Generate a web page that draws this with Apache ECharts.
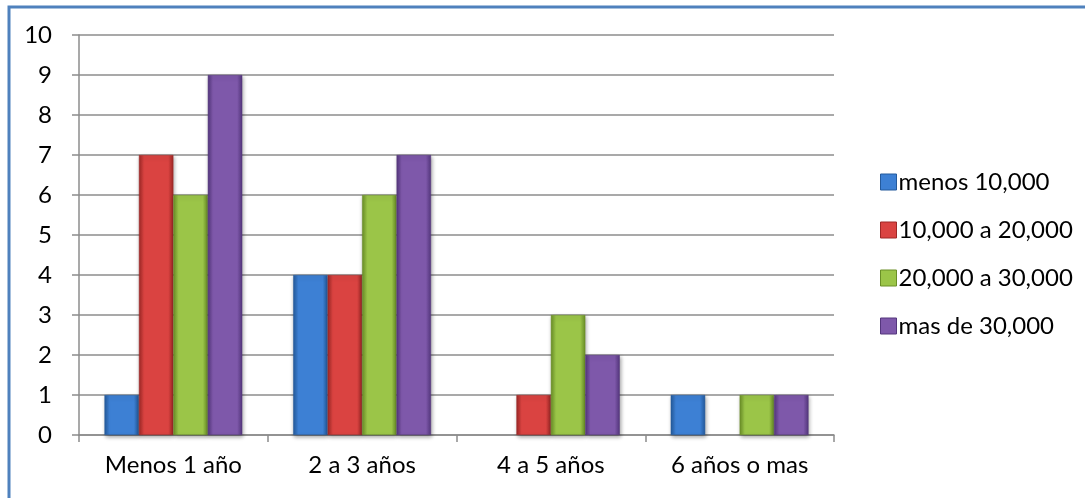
<!DOCTYPE html>
<html><head><meta charset="utf-8">
<script src="https://cdn.jsdelivr.net/npm/echarts@6/dist/echarts.min.js"></script>
<style>html,body{margin:0;padding:0;background:#fff}#c{width:1085px;height:498px}</style>
</head><body><div id="c"></div>
<script>
const categories = ['Menos 1 año', '2 a 3 años', '4 a 5 años', '6 años o mas'];
const seriesNames = ['menos 10,000', '10,000 a 20,000', '20,000 a 30,000', 'mas de 30,000'];
const menos10000 = [1, 4, 0, 1];
const de10000a20000 = [7, 4, 1, 0];
const de20000a30000 = [6, 6, 3, 1];
const mas30000 = [9, 7, 2, 1];
const yTicks = [0,1,2,3,4,5,6,7,8,9,10];

const palette = [
  ['#245a9c', '#3d80d4', '#245a9c'],
  ['#9e2826', '#da4341', '#9e2826'],
  ['#6a8f27', '#9bc548', '#6a8f27'],
  ['#54367d', '#7e58aa', '#54367d']
];
function grad(c) {
  return new echarts.graphic.LinearGradient(0, 0, 1, 0, [
    {offset: 0, color: c[0]}, {offset: 0.15, color: c[1]},
    {offset: 0.85, color: c[1]}, {offset: 1, color: c[2]}
  ]);
}
const allData = [menos10000, de10000a20000, de20000a30000, mas30000];
const font = 'Lato, "Open Sans", sans-serif';
const chart = echarts.init(document.getElementById('c'));
chart.setOption({
  animation: false,
  graphic: [{
    type: 'rect', shape: {x: 9, y: 7, width: 1200, height: 600},
    style: {fill: 'none', stroke: '#4f81bd', lineWidth: 3}, silent: true
  }],
  grid: {left: 79, right: 251, top: 35, bottom: 63},
  legend: {
    orient: 'vertical', left: 875, top: 165, itemWidth: 16, itemHeight: 16, itemGap: 24,
    icon: 'rect',
    textStyle: {fontFamily: font, fontSize: 24, color: '#000', padding: [0,0,0,-3]},
    data: seriesNames.map((n, i) => ({name: n, itemStyle: {color: palette[i][1], borderColor: palette[i][0], borderWidth: 1}}))
  },
  xAxis: {
    type: 'category', data: categories,
    axisLine: {lineStyle: {color: '#8c8c8c', width: 1.5}},
    axisTick: {show: true, length: 7, lineStyle: {color: '#8c8c8c', width: 1.5}},
    axisLabel: {fontFamily: font, fontSize: 24, color: '#000', margin: 18}
  },
  yAxis: {
    type: 'value', min: 0, max: 10, interval: 1,
    axisLine: {show: true, lineStyle: {color: '#8c8c8c', width: 1.5}},
    axisTick: {show: true, length: 7, lineStyle: {color: '#8c8c8c', width: 1.5}},
    axisLabel: {fontFamily: font, fontSize: 24, color: '#000', margin: 27,
      formatter: v => yTicks.includes(v) ? String(v) : ''},
    splitLine: {lineStyle: {color: '#8c8c8c', width: 1.5}}
  },
  series: allData.map((d, i) => ({
    name: seriesNames[i], type: 'bar', data: d.map(v => v === 0 ? '-' : v),
    barGap: '0%', barCategoryGap: '27%',
    itemStyle: {
      color: grad(palette[i]), borderColor: palette[i][0], borderWidth: 0.5,
      shadowColor: 'rgba(0,0,0,0.35)', shadowBlur: 4, shadowOffsetX: 1, shadowOffsetY: 2
    }
  }))
});
</script></body></html>
